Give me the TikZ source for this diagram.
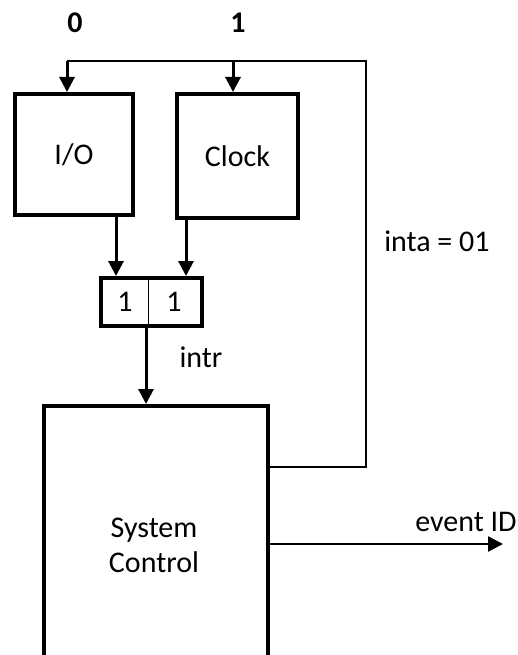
\documentclass[tikz,border=0pt]{standalone}
\usepackage{fontspec}
\setmainfont{Carlito}
\usetikzlibrary{arrows.meta}
\tikzset{
  blk/.style={draw, line width=4pt, inner sep=0pt, font=\fontsize{30}{35}\selectfont},
  arr/.style={line width=3pt, -{Triangle[width=15pt,length=15pt]}},
  thinln/.style={line width=2pt},
  lbl/.style={font=\fontsize{30}{35}\selectfont, inner sep=0pt},
}
\begin{document}
\begin{tikzpicture}[x=1pt,y=-1pt]
\useasboundingbox (0,0) rectangle (517,655);
\clip (0,0) rectangle (517,655);
\node[lbl, font=\fontsize{30}{35}\selectfont\bfseries] (l0) at (75,23) {0};
\node[lbl, font=\fontsize{30}{35}\selectfont\bfseries] (l1) at (238,23) {1};
\node[blk, minimum width=118pt, minimum height=121pt] (io) at (74,154.5) {I/O};
\node[blk, minimum width=121pt, minimum height=124pt] (clk) at (237.5,156) {Clock};
\node[blk, minimum width=101pt, minimum height=48pt] (reg) at (151.5,302) {};
\coordinate (div) at (148,302);
\draw[line width=1pt] (div |- reg.north) -- (div |- reg.south);
\node[lbl] (r1) at (125,302) {1};
\node[lbl] (r2) at (174,302) {1};
\node[blk, minimum width=224pt, minimum height=320pt, anchor=north west] (sc) at (42,404) {};
\node[lbl, align=center] (sct) at (154,545) {System\\Control};
\coordinate (fbr) at (366,467);
\coordinate (fbt) at (366,61);
\coordinate (fbl) at (67,61);
\coordinate (fbm) at (233,61);
\draw[thinln] (sc.east |- fbr) -- (fbr) -- (fbt) -- (fbl);
\draw[arr] (fbl) -- (fbl |- io.north);
\draw[arr] (fbm) -- (fbm |- clk.north);
\coordinate (a1) at (116,213);
\coordinate (a2) at (186,217);
\draw[arr] (a1) -- (a1 |- reg.north);
\draw[arr] (a2) -- (a2 |- reg.north);
\coordinate (a3) at (146,324);
\draw[arr] (a3) -- (a3 |- sc.north);
\coordinate (ev) at (503,544);
\draw[line width=2.5pt, -{Triangle[width=15pt,length=15pt]}] (sc.east |- ev) -- (ev);
\node[lbl] (intr) at (201,357) {intr};
\node[lbl] (inta) at (437,241) {inta = 01};
\node[lbl] (evid) at (466,522) {event ID};
\end{tikzpicture}
\end{document}
